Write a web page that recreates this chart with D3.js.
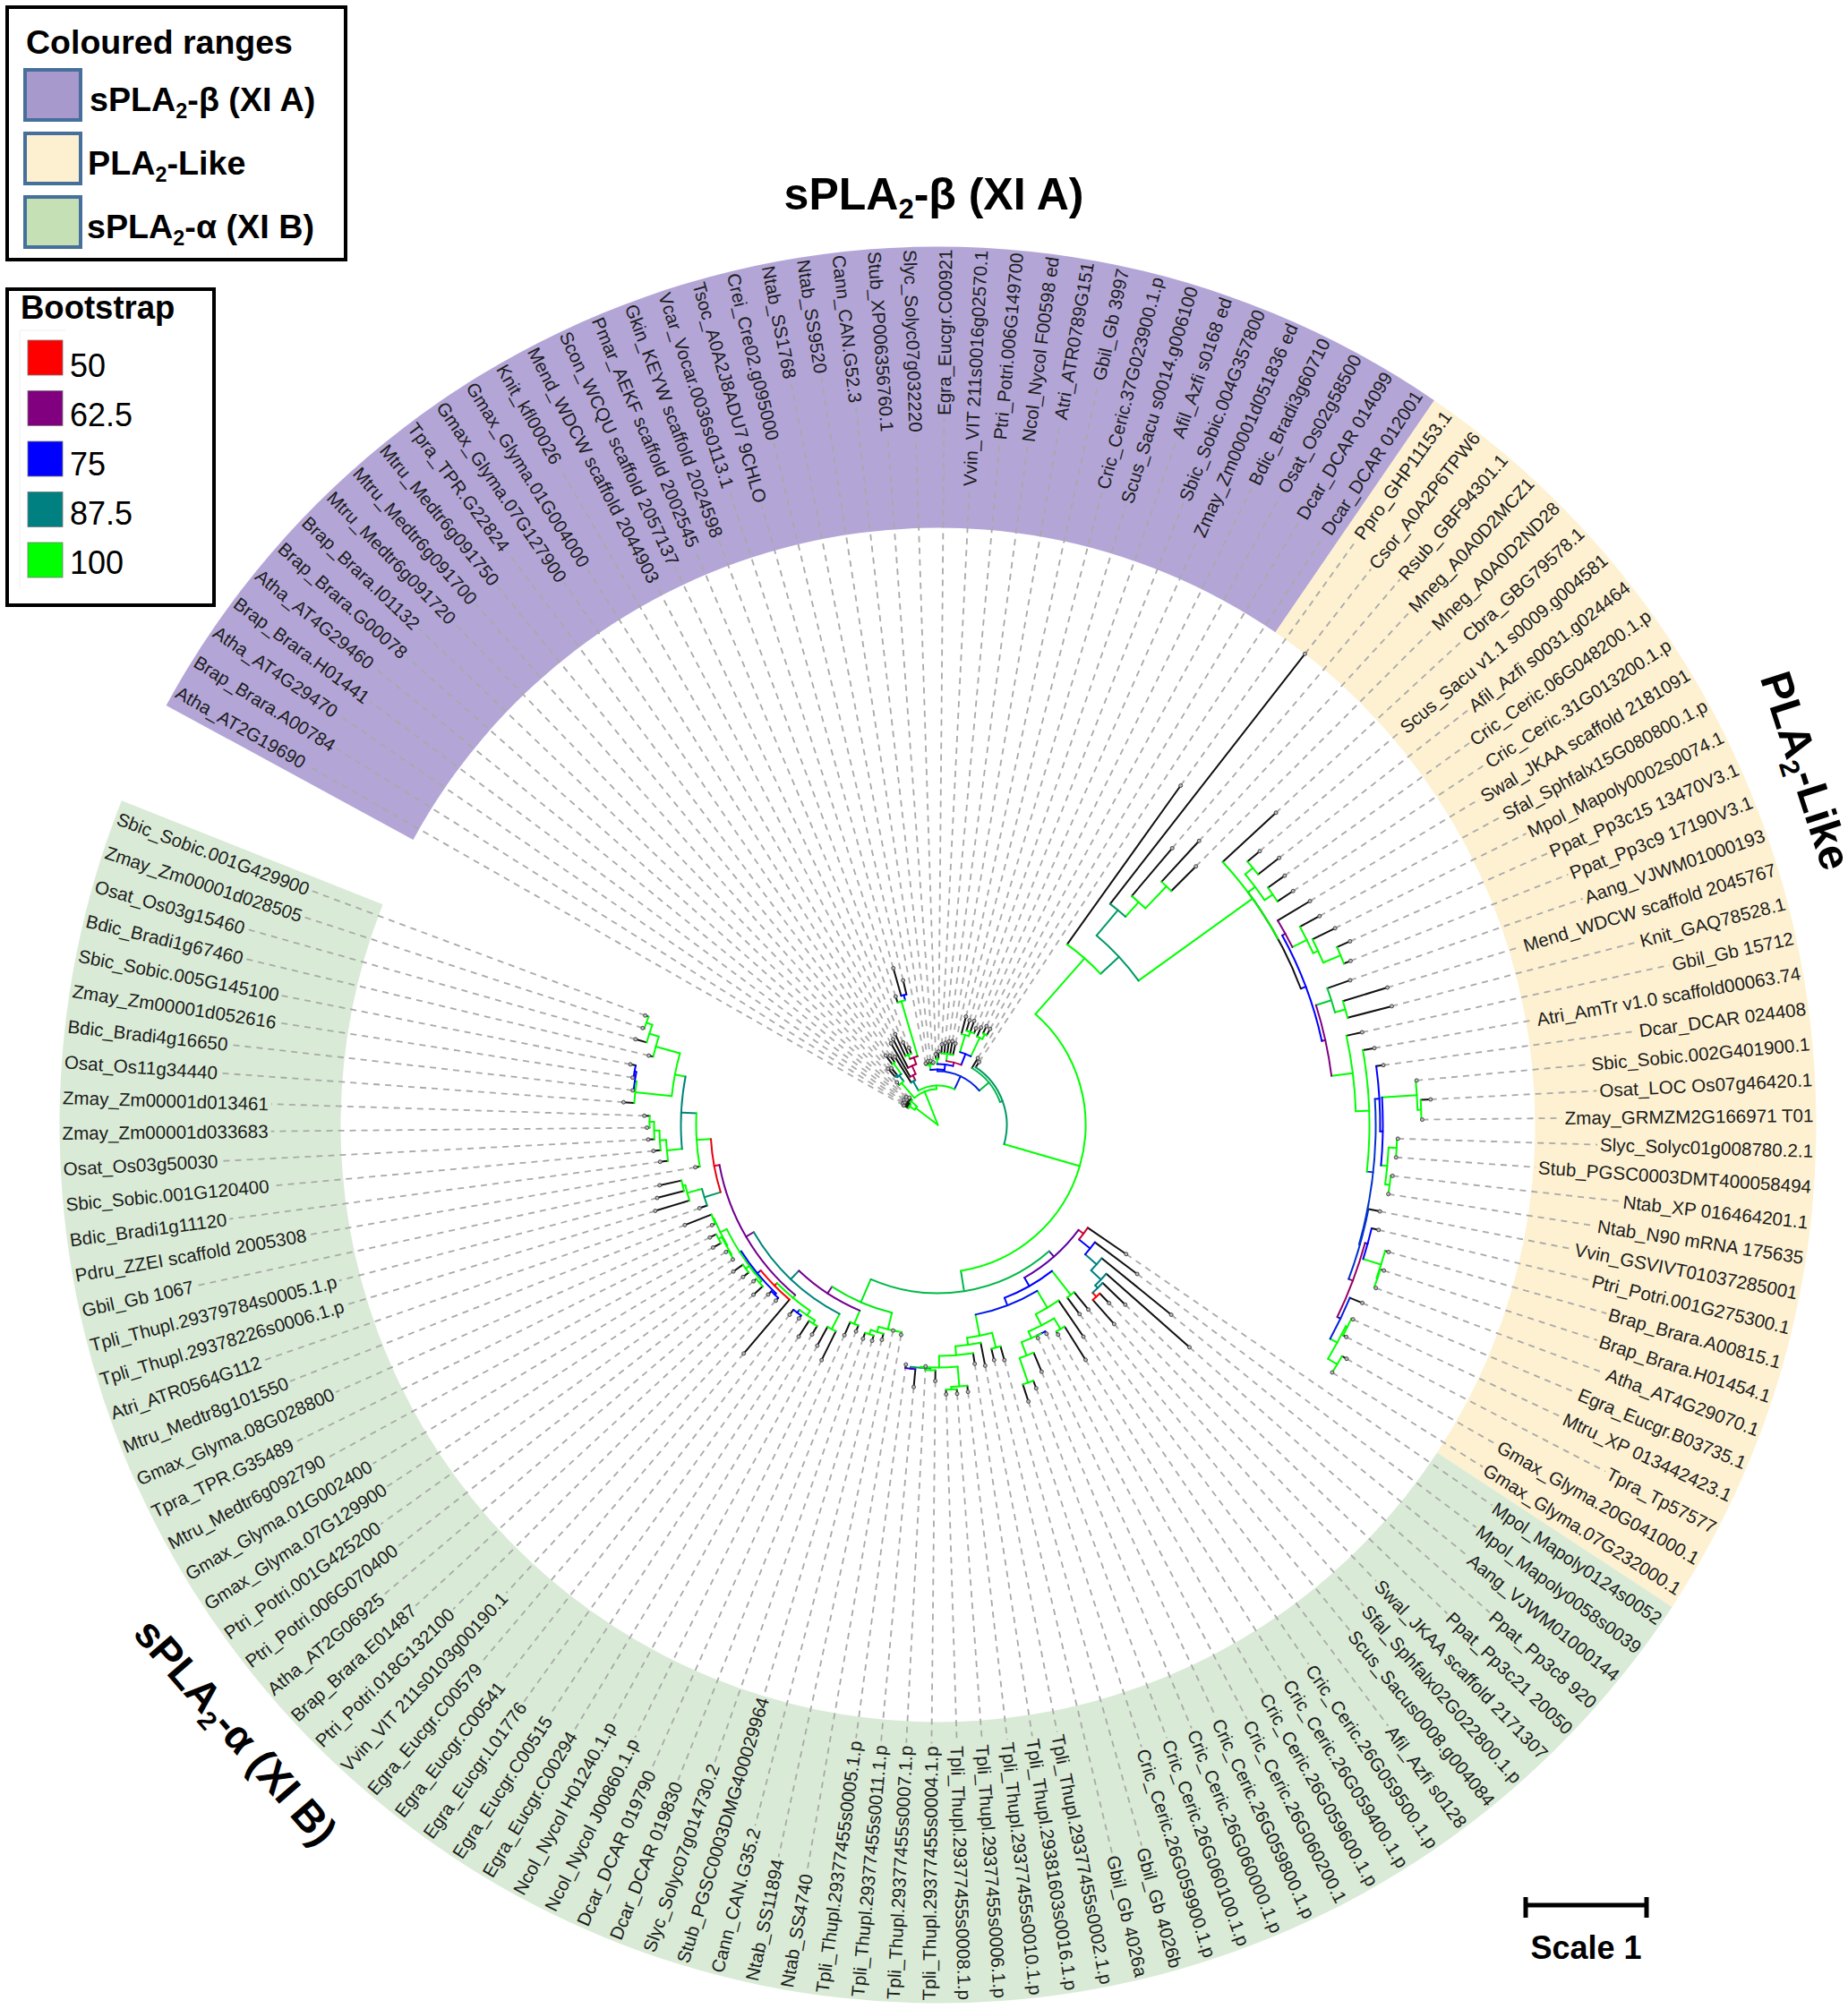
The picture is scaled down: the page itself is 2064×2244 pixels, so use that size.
<!DOCTYPE html>
<html>
<head>
<meta charset="utf-8">
<title>sPLA2 tree</title>
<script src="https://cdnjs.cloudflare.com/ajax/libs/d3/7.8.5/d3.min.js"></script>
<style>
body { margin: 0; background: #fff; }
text { font-family: "Liberation Sans", Arial, sans-serif; }
</style>
</head>
<body>
<div id="chart"></div>
<script>
// leaves clockwise from the left end of the purple range
var betaLeaves = ["Atha_AT2G19690","Brap_Brara.A00784","Atha_AT4G29470","Brap_Brara.H01441","Atha_AT4G29460","Brap_Brara.G00078","Brap_Brara.I01132","Mtru_Medtr6g091720","Mtru_Medtr6g091700","Mtru_Medtr6g091750","Tpra_TPR.G22824","Gmax_Glyma.07G127900","Gmax_Glyma.01G004000","Knit_kfl00026","Mend_WDCW scaffold 2044903","Scon_WCQU scaffold 2057137","Pmar_AEKF scaffold 2002545","Gkin_KEYW scaffold 2024598","Vcar_Vocar.0036s0113.1","Tsoc_A0A2J8ADU7 9CHLO","Crei_Cre02.g095000","Ntab_SS1768","Ntab_SS9520","Cann_CAN.G52.3","Stub_XP006356760.1","Slyc_Solyc07g032220","Egra_Eucgr.C00921","Vvin_VIT 211s0016g02570.1","Ptri_Potri.006G149700","Ncol_Nycol F00598 ed","Atri_ATR0789G151","Gbil_Gb 3997","Cric_Ceric.37G023900.1.p","Scus_Sacu s0014.g006100","Afil_Azfi s0168 ed","Sbic_Sobic.004G357800","Zmay_Zm00001d051836 ed","Bdic_Bradi3g60710","Osat_Os02g58500","Dcar_DCAR 014099","Dcar_DCAR 012001"];
var likeLeaves = ["Ppro_GHP11153.1","Csor_A0A2P6TPW6","Rsub_GBF94301.1","Mneg_A0A0D2MCZ1","Mneg_A0A0D2ND28","Cbra_GBG79578.1","Scus_Sacu v1.1 s0009.g004581","Afil_Azfi s0031.g024464","Cric_Ceric.06G048200.1.p","Cric_Ceric.31G013200.1.p","Swal_JKAA scaffold 2181091","Sfal_Sphfalx15G080800.1.p","Mpol_Mapoly0002s0074.1","Ppat_Pp3c15 13470V3.1","Ppat_Pp3c9 17190V3.1","Aang_VJWM01000193","Mend_WDCW scaffold 2045767","Knit_GAQ78528.1","Gbil_Gb 15712","Atri_AmTr v1.0 scaffold00063.74","Dcar_DCAR 024408","Sbic_Sobic.002G401900.1","Osat_LOC Os07g46420.1","Zmay_GRMZM2G166971 T01","Slyc_Solyc01g008780.2.1","Stub_PGSC0003DMT400058494","Ntab_XP 016464201.1","Ntab_N90 mRNA 175635","Vvin_GSVIVT01037285001","Ptri_Potri.001G275300.1","Brap_Brara.A00815.1","Brap_Brara.H01454.1","Atha_AT4G29070.1","Egra_Eucgr.B03735.1","Mtru_XP 013442423.1","Tpra_Tp57577","Gmax_Glyma.20G041000.1","Gmax_Glyma.07G232000.1"];
var alphaLeaves = ["Mpol_Mapoly0124s0052","Mpol_Mapoly0058s0039","Aang_VJWM01000144","Ppat_Pp3c8 920","Ppat_Pp3c21 20050","Swal_JKAA scaffold 2171307","Sfal_Sphfalx02G022800.1.p","Scus_Sacus0008.g004084","Afil_Azfi s0128","Cric_Ceric.26G059500.1.p","Cric_Ceric.26G059400.1.p","Cric_Ceric.26G059600.1.p","Cric_Ceric.26G060200.1","Cric_Ceric.26G059800.1.p","Cric_Ceric.26G060000.1.p","Cric_Ceric.26G060100.1.p","Cric_Ceric.26G059900.1.p","Gbil_Gb 4026b","Gbil_Gb 4026a","Tpli_Thupl.29377455s0002.1.p","Tpli_Thupl.29381603s0016.1.p","Tpli_Thupl.29377455s0010.1.p","Tpli_Thupl.29377455s0006.1.p","Tpli_Thupl.29377455s0008.1.p","Tpli_Thupl.29377455s0004.1.p","Tpli_Thupl.29377455s0007.1.p","Tpli_Thupl.29377455s0011.1.p","Tpli_Thupl.29377455s0005.1.p","Ntab_SS4740","Ntab_SS11894","Cann_CAN.G35.2","Stub_PGSC0003DMG400029964","Slyc_Solyc07g014730.2","Dcar_DCAR 019830","Dcar_DCAR 019790","Ncol_Nycol J00860.1.p","Ncol_Nycol H01240.1.p","Egra_Eucgr.C00294","Egra_Eucgr.C00515","Egra_Eucgr.L01776","Egra_Eucgr.C00541","Egra_Eucgr.C00579","Vvin_VIT 211s0103g00190.1","Ptri_Potri.018G132100","Brap_Brara.E01487","Atha_AT2G06925","Ptri_Potri.006G070400","Ptri_Potri.001G425200","Gmax_Glyma.07G129900","Gmax_Glyma.01G002400","Mtru_Medtr6g092790","Tpra_TPR.G35489","Gmax_Glyma.08G028800","Mtru_Medtr8g101550","Atri_ATR0564G112","Tpli_Thupl.29378226s0006.1.p","Tpli_Thupl.29379784s0005.1.p","Gbil_Gb 1067","Pdru_ZZEI scaffold 2005308","Bdic_Bradi1g11120","Sbic_Sobic.001G120400","Osat_Os03g50030","Zmay_Zm00001d033683","Zmay_Zm00001d013461","Osat_Os11g34440","Bdic_Bradi4g16650","Zmay_Zm00001d052616","Sbic_Sobic.005G145100","Bdic_Bradi1g67460","Osat_Os03g15460","Zmay_Zm00001d028505","Sbic_Sobic.001G429900"];

var bootstrapLevels = [50, 62.5, 75, 87.5, 100];
var bootstrapColours = ["#ff0000", "#800080", "#0000ff", "#008080", "#00ff00"];

var rangeColours = ["#b3a6d7", "#fdf1d1", "#d9ebd6"];
var rangeSwatches = ["#a899cd", "#fdf0d0", "#c6e0b5"];
var rangeStems = ["sPLA", "PLA", "sPLA"];
var rangeTails = ["-\u03b2 (XI A)", "-Like", "-\u03b1 (XI B)"];

// scale bar length in tree distance units
var scaleBarUnits = 135;

// tree: [distance from root, bootstrap, children...]; a bare number is a leaf at that distance
// leaves come in the same order as the label lists. null bootstrap = no value, drawn black
var q = [62,100, 66, [70,87.5, [72,87.5, 84,82], [85,100, 97,94]]];
var t1 = [144,100, 151, [150,75, 182,166]];
var s4 = [80,58, [85,100, 112,100,92], t1];
var s = [56,87.5, 90, [62,58, 105, [72,58, 108, s4]]];
var u6 = [85,75, [105,100, 125, [110,100, 122,123,116]], [108,100, 119, [114,100, 123,122]]];
var u4 = [72,58, [80,100, 90,92,94,95,93], u6];
var u = [62,75, [68,100, 70,72,72,70], [68,75, [74,100, 79,82], u4]];

var y8 = [443,100, [454,100, 472,484], [454,100, 477,475]];
var y11 = [443,62.5, 485, [461,100, 486, [467,100, 495, [488,100, 504,496]]]];
var y22 = [497,75, [536,100, 537, [540,100, 551,541]], [504,100, [513,100, 514,513], [509,100, 511,509]]];
var y31 = [495,60, [498,75, 506, [519,100, 523, [520,100, 524,522]]],
  [499,78, 514, [508,100, [510,100, 512,514], [520,100, 526,520]]]];
var y20 = [489,80, [494,75, 502, y22], [490,80, 503, y31]];
var y15 = [443,62.5, [461,95, 488, [473,100, 525,524]], [467,100, 485, [482,100, 495, y20]]];
var y7 = [433,null, y8, [439,75, y11, y15]];
var yellowClade = [248,100, 466, [276,90, [313,90, 667, [335,100, 405, [369,100, 431,408]]], [433,100, 514, y7]]];

var ga = [196,66, [203,55, 255, [219,75, 278, [236,87.5, 336, [251,87.5, 375, [255,87, 290, [261,50, 276,297]]]]]],
  [207,75, [241,100, 266,264],
    [216,77,
      [238,100, 287, [252,100, [266,100, 310,270],
        [260,100, [260,75, 263,263], [276,100, 299, [305,100, 314,325]]]]],
      [240,100, [257,100, 273,270],
        [248,100, 274, [258,100, 270,
          [271,100, [293,100, 300, [296,100, 301,301]],
            [272,90, [274,100, 286,270], [274,70, 294,270]]]]]]]]];
var g3j = [271,100, [272,100, [273,100, 274,276], [276,100, 286,284]], [272,100, 276,304]];
var g3a = [252,100, [258,100, [262,100, 273,283], [262,75, 266,269]],
  [256,50, 335, [261,75, [263,75, 267,268], [263,100, [263,100, [266,100, 280,270], [268,100, 276,281]], g3j]]]];
var g6 = [304,100, 313, [311,100, 319, [317,100, 324, [322,100, 325,328]]]];
var g7 = [299,100, [340,100, 352, [342,75, 343, [344,75, 345,350]]], [327,100, 332, [338,100, 351, [345,100, 347,349]]]];
var g3b = [254,52, [273,90, 282, [290,100, 330, [293,100, 324,318]]], [270,100, 275, [287,88, g6, g7]]];
var gb = [216,98, [235,100, [235,100, 238,235], [241,100, 248, [246,100, 252,253]]],
  [225,64, [241,100, 248,257], [238,88, [257,100, 293,281], [248,64, g3a, g3b]]]];
var alphaClade = [188,93, ga, gb];

var rest = [165,100, yellowClade, alphaClade];
var n3 = [60,78, u, [74,93, 87, [77,90, 84, rest]]];
var treeData = [0,100, [31,100, [38,100, 44,46,45,47], [40,100, 45,47,44]], [40,100, q, [44,100, s, n3]]];

var width = 2064, height = 2244;
var cx = 1047.5, cy = 1256.5;
var innerR = 667, outerR = 981;
var leafNames = betaLeaves.concat(likeLeaves, alphaLeaves);
var rad = Math.PI / 180;

var svg = d3.select("#chart").append("svg")
    .attr("width", width)
    .attr("height", height)
    .style("display", "block")
    .style("background", "#fff");

var plot = svg.append("g").attr("transform", "translate(" + cx + "," + cy + ")");

var angleScale = d3.scaleLinear().domain([0, leafNames.length - 1]).range([-60.3, 290.5]);
var distScale = d3.scaleLinear().domain([0, scaleBarUnits]).range([0, 135]);
var bootColour = d3.scaleLinear().domain(bootstrapLevels).range(bootstrapColours);

// coloured ranges
var counts = [betaLeaves.length, likeLeaves.length, alphaLeaves.length];
var ringArc = d3.arc().innerRadius(innerR).outerRadius(outerR);
var first = 0;
counts.forEach(function (n, i) {
    plot.append("path")
        .attr("fill", rangeColours[i])
        .attr("d", ringArc({
            startAngle: angleScale(first - 0.5) * rad,
            endAngle: angleScale(first + n - 0.5) * rad
        }));
    first += n;
});

var root = d3.hierarchy(treeData, function (d) {
    return Array.isArray(d) ? d.slice(2) : null;
});

// leaf position along the circle, inner nodes sit half way between their outer children
var leafCount = 0;
root.eachAfter(function (n) {
    if (n.children) {
        n.pos = (n.children[0].pos + n.children[n.children.length - 1].pos) / 2;
        n.dist = n.data[0];
        n.boot = n.data[1];
    } else {
        n.pos = leafCount++;
        n.dist = n.data;
        n.boot = null;
    }
    n.angle = angleScale(n.pos);
    n.r = distScale(n.dist);
});

function colourOf(n) {
    return n.boot === null ? "#111" : bootColour(n.boot);
}

var dashLayer = plot.append("g");
var labelLayer = plot.append("g");
var treeLayer = plot.append("g").attr("fill", "none").attr("stroke-width", 2).attr("stroke-linecap", "round");
var tipLayer = plot.append("g");

root.leaves().forEach(function (leaf, i) {
    var a = leaf.angle;
    var right = a >= 0 && a < 180;
    var label = labelLayer.append("text")
        .attr("transform", "rotate(" + (right ? a - 90 : a + 90) + ")")
        .attr("x", right ? outerR - 3 : -(outerR - 3))
        .attr("dy", "0.35em")
        .attr("text-anchor", right ? "end" : "start")
        .attr("font-size", 20.6)
        .attr("fill", "#1c1c1c")
        .text(leafNames[i]);
    var len = label.node().getComputedTextLength();
    var from = d3.pointRadial(a * rad, leaf.r);
    var to = d3.pointRadial(a * rad, outerR - 3 - len - 3);
    dashLayer.append("line")
        .attr("x1", from[0]).attr("y1", from[1])
        .attr("x2", to[0]).attr("y2", to[1])
        .attr("stroke", "#a9a9a9")
        .attr("stroke-width", 1.8)
        .attr("stroke-dasharray", "7,6");
});

// parents go on top of their children
root.descendants().reverse().forEach(function (n) {
    if (n.parent) {
        var p0 = d3.pointRadial(n.angle * rad, n.parent.r);
        var p1 = d3.pointRadial(n.angle * rad, n.r);
        treeLayer.append("line")
            .attr("x1", p0[0]).attr("y1", p0[1])
            .attr("x2", p1[0]).attr("y2", p1[1])
            .attr("stroke", colourOf(n));
    }
    if (n.children && n.r > 0) {
        var path = d3.path();
        var kids = n.children;
        path.arc(0, 0, n.r, (kids[0].angle - 90) * rad, (kids[kids.length - 1].angle - 90) * rad);
        treeLayer.append("path")
            .attr("d", path.toString())
            .attr("stroke", colourOf(n));
    }
});

root.leaves().forEach(function (leaf) {
    var p = d3.pointRadial(leaf.angle * rad, leaf.r);
    tipLayer.append("circle")
        .attr("cx", p[0]).attr("cy", p[1])
        .attr("r", 2)
        .attr("fill", "#bbb")
        .attr("stroke", "#444")
        .attr("stroke-width", 1);
});

// text with a subscript 2 in it
function subLabel(g, stem, tail, size) {
    var t = g.append("text")
        .attr("font-size", size)
        .attr("font-weight", "bold")
        .attr("fill", "#000");
    t.append("tspan").text(stem);
    t.append("tspan").attr("font-size", size * 0.62).attr("dy", size * 0.2).text("2");
    t.append("tspan").attr("dy", -size * 0.2).text(tail);
    return t;
}

// clade headings
var headingAnchors = [[1043, 234, 0], [2001, 866, 72], [251, 1945, 49]];
var headingSizes = [50, 49, 47];
headingAnchors.forEach(function (h, i) {
    var g = svg.append("g").attr("transform", "translate(" + h[0] + "," + h[1] + ") rotate(" + h[2] + ")");
    subLabel(g, rangeStems[i], rangeTails[i], headingSizes[i]).attr("text-anchor", "middle");
});

// legend of the ranges
svg.append("rect")
    .attr("x", 8).attr("y", 8).attr("width", 378).attr("height", 282)
    .attr("fill", "#fff").attr("stroke", "#000").attr("stroke-width", 4);
svg.append("text")
    .attr("x", 29).attr("y", 60)
    .attr("font-size", 37.5).attr("font-weight", "bold")
    .text("Coloured ranges");
var swatchY = d3.scalePoint().domain(d3.range(3)).range([78, 220]);
var swatchText = [[100, 124], [98, 195], [97, 266]];
rangeSwatches.forEach(function (c, i) {
    svg.append("rect")
        .attr("x", 28).attr("y", swatchY(i))
        .attr("width", 62).attr("height", 56)
        .attr("fill", c).attr("stroke", "#46709b").attr("stroke-width", 4);
    var g = svg.append("g").attr("transform", "translate(" + swatchText[i][0] + "," + swatchText[i][1] + ")");
    subLabel(g, rangeStems[i], rangeTails[i], 37.7);
});

// legend of the bootstrap colours
svg.append("rect")
    .attr("x", 8).attr("y", 323).attr("width", 231).attr("height", 353)
    .attr("fill", "#fff").attr("stroke", "#000").attr("stroke-width", 4);
svg.append("text")
    .attr("x", 23).attr("y", 356)
    .attr("font-size", 36.5).attr("font-weight", "bold")
    .text("Bootstrap");
svg.append("path")
    .attr("d", "M73,369H22V656")
    .attr("fill", "none").attr("stroke", "#eee");
var bootY = d3.scalePoint().domain(bootstrapLevels).range([380, 606]);
var bootTextY = d3.scalePoint().domain(bootstrapLevels).range([421, 641]);
bootstrapLevels.forEach(function (v, i) {
    svg.append("rect")
        .attr("x", 31).attr("y", bootY(v))
        .attr("width", 39).attr("height", 39)
        .attr("fill", bootstrapColours[i]).attr("stroke", "#777").attr("stroke-width", 0.8);
    svg.append("text")
        .attr("x", 78).attr("y", bootTextY(v))
        .attr("font-size", 36)
        .text(v);
});

// scale bar
var barX = 1704;
var barLen = distScale(1 * scaleBarUnits);
svg.append("path")
    .attr("d", "M" + barX + ",2128H" + (barX + barLen) + "M" + barX + ",2119V2142M" + (barX + barLen) + ",2119V2142")
    .attr("fill", "none").attr("stroke", "#000").attr("stroke-width", 5);
svg.append("text")
    .attr("x", barX + barLen / 2).attr("y", 2188)
    .attr("text-anchor", "middle")
    .attr("font-size", 36).attr("font-weight", "bold")
    .text("Scale 1");
</script>
</body>
</html>
